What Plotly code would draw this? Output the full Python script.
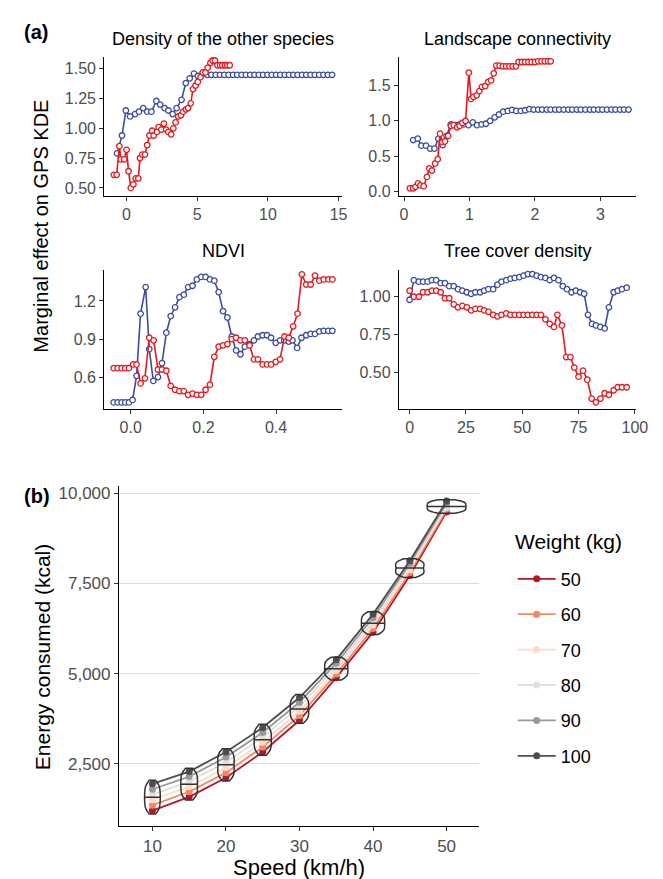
import math
import numpy as np
import plotly.graph_objects as go

# ---------------- Panel (a) data ----------------
dens_blue_x = [-0.67, -0.32, -0.05, 0.25, 0.60, 0.88, 1.18, 1.46, 1.76, 2.11, 2.38, 2.69, 2.96, 3.26, 3.54,
               3.89, 4.19, 4.47, 4.77, 5.05, 5.39, 5.70, 6.00, 6.31, 6.61, 6.92, 7.22, 7.53, 7.83, 8.14, 8.44,
               8.75, 9.05, 9.36, 9.66, 9.97, 10.27, 10.58, 10.88, 11.19, 11.49, 11.80, 12.10, 12.41, 12.71,
               13.02, 13.32, 13.63, 13.93, 14.24, 14.54]
dens_blue_y = [0.79, 0.94, 1.15, 1.10, 1.12, 1.14, 1.17, 1.14, 1.14, 1.23, 1.20, 1.17, 1.15, 1.12, 1.17,
               1.24, 1.38, 1.42, 1.46, 1.44, 1.46, 1.45, 1.45, 1.45, 1.45, 1.45, 1.45, 1.45, 1.45, 1.45, 1.45,
               1.45, 1.45, 1.45, 1.45, 1.45, 1.45, 1.45, 1.45, 1.45, 1.45, 1.45, 1.45, 1.45, 1.45,
               1.45, 1.45, 1.45, 1.45, 1.45, 1.45]
dens_red_x = [-0.90, -0.70, -0.51, -0.40, -0.17, 0.00, 0.14, 0.30, 0.48, 0.65, 0.83, 0.95, 1.11, 1.30, 1.46,
              1.62, 1.81, 1.92, 2.15, 2.27, 2.46, 2.64, 2.80, 2.96, 3.15, 3.31, 3.47, 3.66, 3.85, 4.00,
              4.20, 4.35, 4.54, 4.70, 4.88, 5.04, 5.23, 5.39, 5.58, 5.74, 5.93, 6.09, 6.25, 6.43, 6.62,
              6.78, 6.97, 7.13, 7.30]
dens_red_y = [0.61, 0.61, 0.85, 0.74, 0.74, 0.82, 0.64, 0.50, 0.53, 0.58, 0.58, 0.75, 0.78, 0.78, 0.86,
              0.94, 0.98, 0.94, 0.97, 1.01, 0.99, 1.04, 0.99, 0.97, 0.95, 1.00, 1.05, 1.10, 1.11, 1.14,
              1.16, 1.17, 1.21, 1.33, 1.36, 1.39, 1.43, 1.47, 1.47, 1.51, 1.55, 1.57, 1.57, 1.53, 1.53,
              1.53, 1.53, 1.53, 1.53]

conn_blue_x = [0.14, 0.21, 0.265, 0.335, 0.40, 0.465, 0.525, 0.59, 0.65, 0.715, 0.785, 0.85, 0.915, 0.985,
               1.05, 1.115, 1.185, 1.25, 1.315, 1.385, 1.45, 1.515, 1.585, 1.65, 1.715, 1.785, 1.85, 1.915,
               1.98, 2.05, 2.11, 2.18, 2.24, 2.31, 2.37, 2.44, 2.51, 2.57, 2.64, 2.70, 2.77, 2.84, 2.90,
               2.97, 3.03, 3.10, 3.17, 3.23, 3.30, 3.36, 3.43]
conn_blue_y = [0.73, 0.75, 0.65, 0.65, 0.61, 0.61, 0.75, 0.66, 0.79, 0.95, 0.94, 0.95, 0.95, 0.94,
               0.98, 0.94, 0.95, 0.96, 1.00, 1.05, 1.09, 1.13, 1.14, 1.155, 1.14, 1.14, 1.15, 1.165,
               1.16, 1.16, 1.16, 1.16, 1.16, 1.16, 1.16, 1.16, 1.16, 1.16, 1.16, 1.16, 1.16, 1.16, 1.16,
               1.16, 1.16, 1.16, 1.16, 1.16, 1.16, 1.16, 1.16]
conn_red_x = [0.09, 0.14, 0.175, 0.215, 0.25, 0.30, 0.35, 0.385, 0.425, 0.475, 0.515, 0.55, 0.585, 0.625,
              0.675, 0.715, 0.76, 0.81, 0.85, 0.89, 0.94, 0.99, 1.025, 1.06, 1.11, 1.15, 1.19, 1.24, 1.285,
              1.33, 1.37, 1.41, 1.46, 1.51, 1.56, 1.61, 1.66, 1.71, 1.75, 1.80, 1.85, 1.90, 1.95, 2.00,
              2.05, 2.10, 2.15, 2.20, 2.24]
conn_red_y = [0.05, 0.05, 0.07, 0.12, 0.09, 0.08, 0.21, 0.33, 0.30, 0.40, 0.46, 0.82, 0.70, 0.71,
              0.79, 0.93, 0.94, 0.91, 0.93, 0.97, 1.00, 1.68, 1.31, 1.34, 1.36, 1.42, 1.48, 1.49, 1.55,
              1.57, 1.67, 1.78, 1.78, 1.77, 1.77, 1.77, 1.77, 1.77, 1.83, 1.83, 1.83, 1.83, 1.83, 1.83,
              1.84, 1.84, 1.84, 1.84, 1.84]

ndvi_blue_x = [-0.047, -0.036, -0.025, -0.015, -0.005, 0.005, 0.016, 0.027, 0.041, 0.051, 0.062, 0.075,
               0.086, 0.098, 0.110, 0.122, 0.134, 0.146, 0.158, 0.170, 0.182, 0.194, 0.206, 0.218, 0.230,
               0.242, 0.254, 0.266, 0.278, 0.290, 0.302, 0.314, 0.327, 0.339, 0.350, 0.363, 0.375, 0.386,
               0.399, 0.411, 0.423, 0.435, 0.445, 0.458, 0.470, 0.483, 0.495, 0.507, 0.519, 0.531, 0.544, 0.555]
ndvi_blue_y = [0.40, 0.40, 0.40, 0.40, 0.40, 0.42, 0.61, 1.10, 1.31, 0.82, 0.57, 0.60,
               0.71, 0.95, 1.08, 1.15, 1.23, 1.25, 1.31, 1.32, 1.37, 1.39, 1.39, 1.37, 1.36,
               1.27, 1.12, 1.07, 0.92, 0.81, 0.78, 0.84, 0.86, 0.89, 0.92, 0.93, 0.93, 0.91,
               0.87, 0.89, 0.89, 0.88, 0.89, 0.83, 0.91, 0.93, 0.94, 0.94, 0.96, 0.965, 0.965, 0.965]
ndvi_red_x = [-0.047, -0.036, -0.025, -0.015, -0.005, 0.007, 0.016, 0.027, 0.039, 0.051, 0.063, 0.075,
              0.086, 0.098, 0.110, 0.122, 0.134, 0.146, 0.158, 0.170, 0.182, 0.194, 0.206, 0.218, 0.230,
              0.242, 0.254, 0.266, 0.278, 0.290, 0.302, 0.314, 0.327, 0.339, 0.350, 0.363, 0.375, 0.386,
              0.399, 0.411, 0.423, 0.435, 0.447, 0.459, 0.471, 0.483, 0.495, 0.507, 0.519, 0.531, 0.544, 0.555]
ndvi_red_y = [0.67, 0.67, 0.67, 0.67, 0.67, 0.70, 0.70, 0.55, 0.59, 0.91, 0.89, 0.66,
              0.66, 0.65, 0.53, 0.50, 0.49, 0.49, 0.46, 0.47, 0.46, 0.46, 0.50, 0.54, 0.76,
              0.84, 0.85, 0.86, 0.90, 0.91, 0.89, 0.89, 0.85, 0.74, 0.74, 0.70, 0.70, 0.70,
              0.72, 0.74, 0.92, 0.91, 1.00, 1.10, 1.41, 1.33, 1.33, 1.40, 1.36, 1.37, 1.37, 1.37]

tree_blue_x = [0, 1.9, 4.1, 6.0, 8.0, 9.9, 11.8, 13.8, 15.7, 17.6, 19.6, 21.5, 23.4, 25.4, 27.3, 29.2,
               31.3, 33.1, 35.0, 37.1, 39.0, 40.8, 42.9, 44.8, 46.7, 48.7, 50.6, 52.5, 54.5, 56.4, 58.3,
               60.3, 62.2, 64.1, 66.1, 68.0, 69.9, 71.9, 73.8, 75.7, 77.5, 79.2, 81.0, 82.7, 84.7, 86.6,
               88.5, 90.6, 92.4, 94.3, 96.4]
tree_blue_y = [0.98, 1.11, 1.10, 1.10, 1.10, 1.11, 1.11, 1.09, 1.09, 1.07, 1.07, 1.05, 1.04, 1.03, 1.02,
               1.03, 1.03, 1.04, 1.05, 1.05, 1.08, 1.10, 1.11, 1.12, 1.125, 1.13, 1.14, 1.15, 1.15, 1.14,
               1.13, 1.125, 1.11, 1.125, 1.11, 1.07, 1.05, 1.03, 1.04, 1.03, 1.02, 0.88, 0.82, 0.81,
               0.80, 0.79, 0.93, 1.03, 1.04, 1.05, 1.06]
tree_red_x = [0, 1.9, 4.1, 6.0, 8.0, 9.9, 11.8, 13.8, 15.7, 17.6, 19.6, 21.5, 23.4, 25.4, 27.3, 29.2,
              31.3, 33.1, 35.0, 37.1, 39.0, 40.8, 42.9, 44.8, 46.7, 48.7, 50.6, 52.5, 54.5, 56.4, 58.3,
              60.3, 62.2, 64.1, 65.6, 67.6, 69.5, 71.4, 73.1, 75.0, 77.0, 78.9, 80.8, 82.7, 84.7, 86.6,
              88.5, 90.6, 92.4, 94.3, 96.4]
tree_red_y = [1.04, 1.00, 1.00, 1.03, 1.03, 1.04, 1.04, 1.03, 0.99, 0.99, 0.95, 0.93, 0.94, 0.93, 0.91,
              0.92, 0.92, 0.91, 0.90, 0.88, 0.87, 0.88, 0.89, 0.88, 0.88, 0.88, 0.88, 0.88, 0.88, 0.88,
              0.88, 0.85, 0.82, 0.80, 0.88, 0.81, 0.60, 0.60, 0.53, 0.47, 0.51, 0.45, 0.325, 0.30,
              0.325, 0.36, 0.35, 0.38, 0.40, 0.40, 0.40]

panel_titles = ["Density of the other species", "Landscape connectivity", "NDVI", "Tree cover density"]

# ---------------- Panel (b) data ----------------
speeds = [10, 15, 20, 25, 30, 35, 40, 45, 50]
weights = [50, 60, 70, 80, 90, 100]
energy_w50 = [1210, 1590, 2120, 2830, 3710, 4890, 6150, 7720, 9480]
energy_w60 = [1360, 1730, 2260, 2970, 3840, 4990, 6250, 7800, 9540]
energy_w70 = [1510, 1870, 2400, 3100, 3960, 5090, 6350, 7880, 9600]
energy_w80 = [1650, 2010, 2550, 3240, 4090, 5190, 6450, 7970, 9660]
energy_w90 = [1800, 2150, 2690, 3370, 4210, 5290, 6550, 8050, 9720]
energy_w100 = [1950, 2290, 2830, 3510, 4340, 5390, 6650, 8130, 9780]
weight_colors = ["#B2182B", "#EF8A62", "#FDDBC7", "#E0E0E0", "#999999", "#4D4D4D"]

FONT = "Liberation Sans, Arial, sans-serif"
BLUE = "#3B4CA0"
RED = "#E3191C"
W, H = 663, 879

def px_x(p):
    return p / W

def px_y(p):
    return 1 - p / H

fig = go.Figure()

panels = [
    (dens_blue_x, dens_blue_y, dens_red_x, dens_red_y, "x", "y"),
    (conn_blue_x, conn_blue_y, conn_red_x, conn_red_y, "x2", "y2"),
    (ndvi_blue_x, ndvi_blue_y, ndvi_red_x, ndvi_red_y, "x3", "y3"),
    (tree_blue_x, tree_blue_y, tree_red_x, tree_red_y, "x4", "y4"),
]
for bx, by, rx, ry, xa, ya in panels:
    for xs, ys, col in ((bx, by, BLUE), (rx, ry, RED)):
        fig.add_trace(go.Scatter(
            x=xs, y=ys, mode="lines+markers", xaxis=xa, yaxis=ya, showlegend=False,
            line=dict(color=col, width=1.6),
            marker=dict(symbol="circle", size=5.5, color="white", line=dict(color=col, width=1.3)),
            hoverinfo="skip"))

energy_series = [energy_w50, energy_w60, energy_w70, energy_w80, energy_w90, energy_w100]

# weight lines (bottom subplot)
for w, ser, col in zip(weights, energy_series, weight_colors):
    fig.add_trace(go.Scatter(
        x=speeds, y=ser, mode="lines+markers", xaxis="x5", yaxis="y5",
        name=str(w), legendgroup=str(w),
        line=dict(color=col, width=1.8),
        marker=dict(size=7, color=col)))

# violins (one per speed), drawn on an overlaying axis pair so they sit on top
BW_FRAC, PAD_FRAC, AREA_K = 0.17, 0.13, 1580.0
for i, s in enumerate(speeds):
    vals = [ser[i] for ser in energy_series]
    lo, hi = min(vals), max(vals)
    rng = hi - lo
    bw = BW_FRAC * rng
    span = [lo - PAD_FRAC * rng, hi + PAD_FRAC * rng]
    vwidth = AREA_K / rng
    fig.add_trace(go.Violin(
        x=[s] * len(vals), y=vals, xaxis="x6", yaxis="y6", showlegend=False,
        width=vwidth, scalemode="width", spanmode="manual", span=span, bandwidth=bw,
        points=False, fillcolor="rgba(255,255,255,0)",
        line=dict(color="#333333", width=1.5),
        meanline=dict(visible=False), box=dict(visible=False), hoverinfo="skip"))
    # median line spanning the violin at that height (gaussian KDE, as the violin)
    grid = np.linspace(span[0], span[1], 400)
    dens = np.array([sum(math.exp(-0.5 * ((g - v) / bw) ** 2) for v in vals) for g in grid])
    med = float(np.median(vals))
    dmed = sum(math.exp(-0.5 * ((med - v) / bw) ** 2) for v in vals)
    half = vwidth / 2 * dmed / dens.max()
    fig.add_trace(go.Scatter(
        x=[s - half, s + half], y=[med, med], mode="lines", xaxis="x6", yaxis="y6",
        showlegend=False, line=dict(color="#333333", width=1.5), hoverinfo="skip"))

axis_common = dict(showline=True, linecolor="black", linewidth=1.1, ticks="outside",
                   ticklen=4, tickcolor="#333333", tickwidth=1, showgrid=False, zeroline=False,
                   tickfont=dict(family=FONT, size=16, color="#4D4D4D"))

topy = [px_y(187), px_y(47)]
boty = [px_y(402), px_y(262)]
leftx = [px_x(98), px_x(340)]
rightx = [px_x(398), px_x(640)]
bx_dom = [px_x(113), px_x(480)]
by_dom = [px_y(823), px_y(480)]
bx_rng = [5.45, 54.45]
by_rng = [770, 10192]

fig.update_layout(
    width=W, height=H, margin=dict(l=0, r=0, t=0, b=0),
    paper_bgcolor="white", plot_bgcolor="white",
    font=dict(family=FONT, color="black"),
    violinmode="overlay",
    xaxis=dict(axis_common, domain=leftx, range=[-1.58, 15.23], tickvals=[0, 5, 10, 15], anchor="y"),
    yaxis=dict(axis_common, domain=topy, range=[0.436, 1.6025], tickvals=[0.5, 0.75, 1.0, 1.25, 1.5],
               tickformat=".2f", anchor="x"),
    xaxis2=dict(axis_common, domain=rightx, range=[-0.08, 3.55], tickvals=[0, 1, 2, 3], anchor="y2"),
    yaxis2=dict(axis_common, domain=topy, range=[-0.052, 1.906], tickvals=[0, 0.5, 1.0, 1.5],
                tickformat=".1f", anchor="x2"),
    xaxis3=dict(axis_common, domain=leftx, range=[-0.073, 0.581], tickvals=[0, 0.2, 0.4],
                tickformat=".1f", anchor="y3"),
    yaxis3=dict(axis_common, domain=boty, range=[0.35, 1.445], tickvals=[0.6, 0.9, 1.2],
                tickformat=".1f", anchor="x3"),
    xaxis4=dict(axis_common, domain=rightx, range=[-4.8, 100.7], tickvals=[0, 25, 50, 75, 100], anchor="y4"),
    yaxis4=dict(axis_common, domain=boty, range=[0.257, 1.178], tickvals=[0.5, 0.75, 1.0],
                tickformat=".2f", anchor="x4"),
    xaxis5=dict(axis_common, domain=bx_dom, range=bx_rng,
                tickvals=[10, 20, 30, 40, 50], anchor="y5",
                tickfont=dict(family=FONT, size=17, color="#4D4D4D")),
    yaxis5=dict(axis_common, domain=by_dom, range=by_rng,
                tickvals=[2500, 5000, 7500, 10000], tickformat=",", anchor="x5",
                showgrid=True, gridcolor="#DCDCDC", gridwidth=1,
                tickfont=dict(family=FONT, size=17, color="#4D4D4D")),
    xaxis6=dict(domain=bx_dom, range=bx_rng, overlaying="x5", anchor="y6", visible=False),
    yaxis6=dict(domain=by_dom, range=by_rng, overlaying="y5", anchor="x6", visible=False),
    legend=dict(x=px_x(514), y=px_y(555), xanchor="left", yanchor="top",
                font=dict(family=FONT, size=18, color="black"), itemwidth=38,
                traceorder="grouped", tracegroupgap=9, bgcolor="rgba(0,0,0,0)"),
)

annos = [
    dict(text="<b>(a)</b>", x=px_x(14), y=px_y(22), xanchor="left", yanchor="middle", size=20),
    dict(text="<b>(b)</b>", x=px_x(14), y=px_y(490), xanchor="left", yanchor="middle", size=20),
    dict(text=panel_titles[0], x=px_x(219), y=px_y(29), xanchor="center", yanchor="middle", size=18),
    dict(text=panel_titles[1], x=px_x(519), y=px_y(29), xanchor="center", yanchor="middle", size=18),
    dict(text=panel_titles[2], x=px_x(219), y=px_y(243), xanchor="center", yanchor="middle", size=18),
    dict(text=panel_titles[3], x=px_x(519), y=px_y(243), xanchor="center", yanchor="middle", size=18),
    dict(text="Speed (km/h)", x=px_x(296), y=px_y(864), xanchor="center", yanchor="middle", size=22),
    dict(text="Weight (kg)", x=px_x(514), y=px_y(536), xanchor="left", yanchor="middle", size=21),
]
for a in annos:
    fig.add_annotation(text=a["text"], x=a["x"], y=a["y"], xref="paper", yref="paper",
                       xanchor=a["xanchor"], yanchor=a["yanchor"], showarrow=False,
                       font=dict(family=FONT, size=a["size"], color="black"))
fig.add_annotation(text="Marginal effect on GPS KDE", x=px_x(34), y=px_y(218), xref="paper", yref="paper",
                   textangle=-90, showarrow=False, xanchor="center", yanchor="middle",
                   font=dict(family=FONT, size=20, color="black"))
fig.add_annotation(text="Energy consumed (kcal)", x=px_x(35), y=px_y(652), xref="paper", yref="paper",
                   textangle=-90, showarrow=False, xanchor="center", yanchor="middle",
                   font=dict(family=FONT, size=21, color="black"))

fig.write_html("out.html")
